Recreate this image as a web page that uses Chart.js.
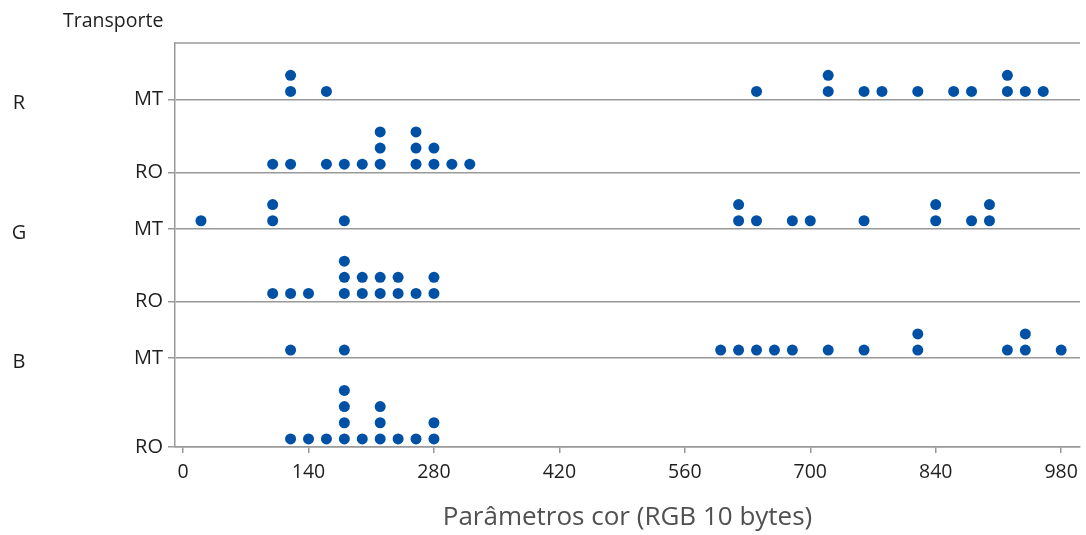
<!DOCTYPE html>
<html><head><meta charset="utf-8">
<script src="https://cdn.jsdelivr.net/npm/chart.js@4"></script>
<style>html,body{margin:0;padding:0;background:#fff;}#wrap{width:1086px;height:535px;position:relative;}</style>
</head><body><div id="wrap"><canvas id="c" width="1086" height="535"></canvas></div>
<script>
// ---- data ----
const groups = ['R', 'G', 'B'];
const transports = ['MT', 'RO'];
const xTicks = [0, 140, 280, 420, 560, 700, 840, 980];
const rMT = [120, 120, 160, 640, 720, 720, 760, 780, 820, 860, 880, 920, 920, 940, 960];
const rRO = [100, 120, 160, 180, 200, 220, 220, 220, 260, 260, 260, 280, 280, 300, 320];
const gMT = [20, 100, 100, 180, 620, 620, 640, 680, 700, 760, 840, 840, 880, 900, 900];
const gRO = [100, 120, 140, 180, 180, 180, 200, 200, 220, 220, 240, 240, 260, 280, 280];
const bMT = [120, 180, 600, 620, 640, 660, 680, 720, 760, 820, 820, 920, 940, 940, 980];
const bRO = [120, 140, 160, 180, 180, 180, 180, 200, 220, 220, 220, 240, 260, 280, 280];
const xTitle = 'Parâmetros cor (RGB 10 bytes)';
const yHeader = 'Transporte';

// ---- build dot-plot rows (top to bottom) ----
const seriesByGroup = { R: { MT: rMT, RO: rRO }, G: { MT: gMT, RO: gRO }, B: { MT: bMT, RO: bRO } };
const rows = [];
groups.forEach(g => transports.forEach(t => rows.push({ group: g, t: t, values: seriesByGroup[g][t] })));

const GAP = 1.5;
let base = 0;
for (let i = rows.length - 1; i >= 0; i--) {
  const counts = {};
  const pts = [];
  rows[i].values.forEach(v => {
    const k = counts[v] || 0;
    counts[v] = k + 1;
    pts.push({ x: v, y: base + 0.5 + k });
  });
  rows[i].base = base;
  rows[i].pts = pts;
  base += Math.max(...Object.values(counts)) + GAP;
}
const yMax = base;
const labelByBase = {};
rows.forEach(r => { labelByBase[r.base] = r.t; });

const FONT = "'Open Sans', 'Noto Sans', sans-serif";
const GRID = '#999999';
const DOT = '#0051a5';
const TXT = '#1e1e1e';

const extras = {
  id: 'extras',
  afterDraw(chart) {
    const ctx = chart.ctx, a = chart.chartArea, ys = chart.scales.y;
    ctx.save();
    ctx.strokeStyle = GRID; ctx.lineWidth = 1.5;
    ctx.beginPath(); ctx.moveTo(a.left, a.top); ctx.lineTo(a.right, a.top); ctx.stroke();
    ctx.fillStyle = TXT;
    ctx.font = '19.5px ' + FONT;
    ctx.textAlign = 'left'; ctx.textBaseline = 'middle';
    ctx.fillText(yHeader, 63, 21);
    ctx.font = '20px ' + FONT;
    ctx.textAlign = 'center';
    rows.filter(r => r.t === 'MT').forEach(r => {
      ctx.fillText(r.group, 19, ys.getPixelForValue(r.base) + 4);
    });
    ctx.restore();
  }
};

new Chart(document.getElementById('c'), {
  type: 'scatter',
  data: {
    datasets: rows.map(r => ({
      label: r.group + ' ' + r.t,
      data: r.pts,
      pointRadius: 5.5,
      pointBackgroundColor: DOT,
      pointBorderWidth: 0,
      showLine: false
    }))
  },
  options: {
    responsive: false,
    animation: false,
    layout: { padding: { left: 0, right: 0, top: 43, bottom: 0 } },
    plugins: { legend: { display: false }, tooltip: { enabled: false } },
    scales: {
      x: {
        type: 'linear', min: -9, max: 1001,
        afterBuildTicks: s => { s.ticks = xTicks.map(v => ({ value: v })); },
        grid: { drawOnChartArea: false, drawTicks: true, tickLength: 6, color: GRID, lineWidth: 1.5 },
        border: { display: true, color: GRID, width: 1.5 },
        ticks: { font: { family: FONT, size: 19.5 }, color: TXT, padding: 8, maxRotation: 0, autoSkip: false },
        title: { display: true, text: xTitle, font: { family: FONT, size: 26 }, color: '#505050', padding: { top: 0, bottom: 2 } },
        afterFit: s => { s.height = 88; }
      },
      y: {
        type: 'linear', min: 0, max: yMax,
        afterBuildTicks: s => { s.ticks = rows.map(r => ({ value: r.base })); },
        grid: { color: GRID, lineWidth: 1.5, tickLength: 7 },
        border: { display: true, color: GRID, width: 1.5 },
        ticks: { font: { family: FONT, size: 20 }, color: TXT, padding: 5, autoSkip: false,
                 callback: v => labelByBase[v] },
        afterFit: s => { s.width = 175; }
      }
    }
  },
  plugins: [extras]
});
</script></body></html>
